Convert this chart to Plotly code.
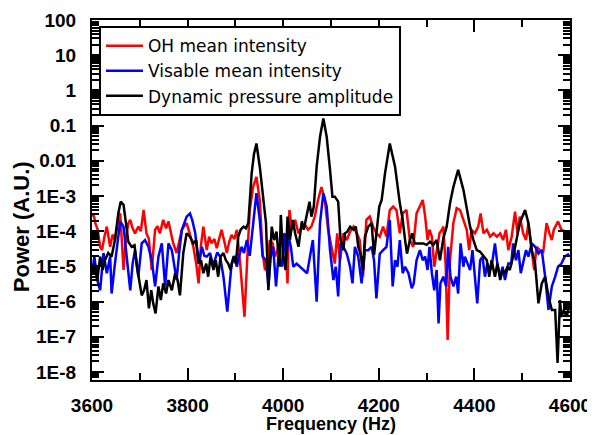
import plotly.graph_objects as go

# ---------------- data ----------------
freq_oh = [3600, 3603, 3607, 3612, 3617, 3621, 3626, 3631, 3638, 3643, 3648, 3655, 3659, 3666, 3671,
           3676, 3680, 3685, 3690, 3697, 3702, 3708, 3714, 3719, 3725, 3732, 3737, 3742, 3749, 3755,
           3760, 3765, 3770, 3777, 3783, 3788, 3793, 3798, 3805, 3812, 3818, 3823, 3828, 3833, 3840,
           3845, 3850, 3856, 3861, 3866, 3871, 3877, 3882, 3887, 3892, 3898, 3903, 3910, 3915, 3919,
           3926, 3930, 3937, 3944, 3951, 3957, 3962, 3967, 3972, 3978, 3983, 3990, 3997, 4004, 4009,
           4013, 4018, 4025, 4032, 4039, 4046, 4052, 4059, 4066, 4073, 4080, 4087, 4094, 4101, 4108,
           4113, 4119, 4126, 4133, 4140, 4147, 4154, 4160, 4167, 4174, 4181, 4188, 4195, 4202, 4209,
           4216, 4223, 4230, 4237, 4244, 4250, 4258, 4265, 4272, 4279, 4286, 4292, 4297, 4302, 4306,
           4311, 4316, 4321, 4327, 4332, 4335, 4340, 4344, 4349, 4356, 4363, 4370, 4377, 4384, 4389,
           4394, 4401, 4408, 4413, 4419, 4426, 4433, 4440, 4447, 4454, 4460, 4466, 4471, 4478, 4485,
           4490, 4495, 4502, 4508, 4513, 4520, 4525, 4530, 4537, 4544, 4551, 4557, 4562, 4566, 4575,
           4582, 4589, 4598]
oh_power = [2.6e-4, 3.2e-4, 1.7e-4, 1.1e-4, 3.6e-5, 2.9e-5, 7.0e-5, 1.35e-4, 3.6e-5, 8e-5, 5.6e-5, 2.1e-4, 3.2e-4, 7.9e-6, 6e-5,
            1.7e-4, 2.1e-4, 1.2e-4, 8.7e-5, 1.35e-4, 1.0e-4, 4.0e-4, 8.7e-5, 6e-5, 7.9e-6, 1.1e-4, 1.4e-4, 8.7e-5, 2.1e-4, 1.2e-4,
            1.9e-4, 9e-5, 4.5e-5, 2.4e-5, 6e-5, 1.1e-4, 1.4e-4, 1.7e-4, 8e-5, 3.6e-5, 1.2e-5, 3.3e-6, 4e-5, 1.35e-4, 2.9e-5,
            7e-5, 4.5e-5, 6e-5, 3.3e-5, 6e-5, 1.1e-4, 5e-5, 2.4e-5, 5e-5, 7.8e-5, 6e-5, 1.1e-4, 1.2e-5, 2e-6, 3.7e-7,
            3.6e-5, 4.0e-4, 1.8e-3, 3.5e-3, 7.7e-4, 2.3e-5, 7.9e-6, 9.8e-6, 5.6e-5, 4.5e-5, 1.9e-5, 3.6e-5, 5.6e-5, 8.7e-5, 3.3e-6,
            4.0e-4, 1.1e-4, 2.1e-4, 8.7e-5, 1.35e-4, 1.5e-4, 1.1e-4, 1.35e-4, 2.6e-4, 7.7e-4, 1.8e-3, 7.7e-4, 1.1e-4, 3.6e-5, 1.2e-5,
            8.7e-5, 1.5e-5, 8.7e-5, 5.6e-5, 9.7e-5, 1.35e-4, 8.7e-5, 5.6e-5, 5.1e-6, 2.1e-4, 2.6e-4, 1.35e-4, 8.7e-5, 7.0e-5, 1.35e-4,
            7.0e-5, 4.0e-4, 5.0e-4, 4.0e-4, 8.7e-5, 3.2e-4, 4.0e-4, 5.6e-5, 3.6e-5, 3.2e-4, 5.5e-4, 7.7e-4, 2.6e-4, 5.6e-5, 1.1e-4,
            7.0e-5, 9.8e-6, 2.9e-5, 8.7e-5, 1.1e-4, 1.35e-4, 9.8e-6, 8.1e-8, 1.5e-5, 1.7e-4, 4.5e-4, 4.0e-4, 2.1e-4, 1.1e-4, 2.9e-5,
            1.1e-4, 8.7e-5, 1.35e-4, 3.2e-4, 8.7e-5, 1.1e-4, 7.0e-5, 8.7e-5, 7.0e-5, 8.7e-5, 5.6e-5, 1.1e-4, 2.9e-5, 7.0e-5, 3.6e-4,
            8.7e-5, 2.6e-4, 8.7e-5, 5.6e-5, 1.7e-4, 2.9e-5, 7.9e-6, 3.6e-5, 2.9e-5, 2.6e-5, 1.7e-4, 8.7e-5, 5.6e-5, 1.1e-4, 1.9e-4,
            1.1e-4, 9.7e-5, 8.7e-5]

freq_vis = [3600, 3605, 3611, 3617, 3624, 3631, 3638, 3641, 3648, 3654, 3659, 3666, 3673, 3680, 3685,
            3690, 3697, 3704, 3711, 3718, 3725, 3732, 3739, 3746, 3753, 3760, 3767, 3772, 3777, 3783,
            3788, 3798, 3805, 3810, 3816, 3823, 3830, 3835, 3840, 3847, 3852, 3857, 3862, 3868, 3875,
            3883, 3888, 3892, 3898, 3903, 3908, 3913, 3918, 3924, 3930, 3936, 3944, 3951, 3957, 3964,
            3969, 3974, 3979, 3985, 3990, 3997, 4002, 4006, 4011, 4016, 4021, 4028, 4035, 4042, 4050,
            4056, 4062, 4070, 4077, 4084, 4091, 4098, 4105, 4110, 4115, 4120, 4126, 4133, 4140, 4145,
            4150, 4157, 4164, 4171, 4178, 4185, 4190, 4195, 4202, 4209, 4216, 4223, 4229, 4234, 4239,
            4244, 4250, 4255, 4262, 4269, 4273, 4279, 4286, 4292, 4297, 4302, 4306, 4311, 4316, 4321,
            4325, 4329, 4335, 4341, 4345, 4350, 4356, 4362, 4366, 4371, 4377, 4380, 4385, 4391, 4396,
            4401, 4406, 4412, 4417, 4422, 4427, 4433, 4438, 4443, 4448, 4454, 4459, 4464, 4471, 4477,
            4481, 4487, 4492, 4497, 4502, 4508, 4513, 4520, 4527, 4534, 4541, 4548, 4555, 4562, 4569,
            4575, 4582, 4589, 4598]
vis_power = [6.4e-6, 1.9e-5, 4.1e-6, 2.1e-6, 2.4e-5, 6.4e-6, 1.9e-5, 1.7e-6, 1.2e-5, 6e-5, 1.9e-4, 1.35e-4, 1.5e-5, 2.1e-6, 1.2e-5,
             2.9e-5, 5.1e-6, 4.5e-5, 5.6e-5, 3.6e-5, 1.5e-5, 2.7e-6, 1.9e-5, 4.5e-5, 2.7e-6, 4.5e-5, 2.9e-5, 1.2e-5, 4.1e-6, 3e-5,
             1.1e-4, 2.6e-4, 3.2e-4, 2e-4, 8.7e-5, 1.2e-5, 3.6e-5, 2e-5, 1.9e-5, 2.4e-5, 1.2e-5, 1.5e-5, 2.5e-5, 1.9e-5, 5.1e-6,
             5.2e-7, 4e-6, 1.2e-5, 2e-5, 9.8e-6, 2e-5, 3.6e-5, 2.4e-5, 5.6e-5, 2.0e-5, 1.35e-4, 1.2e-3, 2.1e-4, 1.9e-5, 1.5e-5,
             2.7e-6, 1.9e-5, 3.6e-5, 2.7e-6, 1.9e-5, 9.8e-6, 8.7e-5, 1.5e-5, 7.0e-5, 3.6e-5, 9.8e-6, 1.2e-5, 9.8e-6, 7.9e-6, 6.4e-6,
             1.9e-5, 5.6e-5, 1.0e-6, 1.7e-4, 1.2e-3, 5.0e-4, 2.9e-5, 4.1e-6, 9.8e-6, 1.4e-6, 4.5e-5, 3.6e-5, 2.3e-5, 9.8e-6, 3.3e-6,
             3.6e-5, 1.9e-5, 3.3e-6, 2.9e-5, 2.9e-5, 3.6e-5, 1.5e-5, 1.24e-6, 2.3e-5, 2.9e-5, 3.6e-5, 2.1e-4, 2.7e-6, 1.5e-5, 9.8e-6,
             5.6e-5, 6.4e-6, 9.8e-6, 6.4e-6, 2.4e-6, 3.3e-6, 1.5e-5, 2.9e-5, 1.5e-5, 1.9e-5, 7.9e-6, 3.6e-5, 6.4e-6, 2.1e-6, 7.9e-6,
             2.4e-7, 3.3e-6, 5.1e-6, 2.7e-6, 3.6e-5, 5.1e-6, 2.7e-6, 5.1e-6, 1.7e-6, 4.5e-5, 9.8e-6, 1.9e-5, 1.2e-5, 7.9e-6, 2.9e-5,
             5.1e-6, 8.9e-7, 1.5e-5, 1.9e-5, 5.1e-6, 1.2e-5, 7.9e-6, 1.5e-5, 4.5e-5, 1.2e-5, 5.1e-6, 9.8e-6, 4.1e-6, 1.2e-5, 1.2e-5,
             4.5e-5, 1.5e-5, 2.9e-5, 6.4e-6, 1.2e-5, 2.9e-5, 1.9e-5, 4.5e-5, 3.6e-5, 2.3e-5, 2.9e-5, 5.1e-6, 5.8e-7, 2.7e-6, 5.1e-6,
             9.8e-6, 1.2e-5, 1.9e-5, 2.3e-5]

freq_dyn = [3600, 3606, 3611, 3617, 3622, 3627, 3634, 3641, 3648, 3655, 3660, 3666, 3671, 3676, 3683,
            3689, 3694, 3699, 3704, 3709, 3714, 3719, 3724, 3728, 3733, 3739, 3744, 3749, 3755, 3760,
            3767, 3774, 3779, 3784, 3791, 3798, 3805, 3812, 3818, 3823, 3828, 3833, 3839, 3843, 3848,
            3854, 3859, 3864, 3869, 3875, 3880, 3885, 3890, 3896, 3901, 3906, 3911, 3917, 3922, 3927,
            3934, 3939, 3944, 3951, 3958, 3964, 3969, 3976, 3981, 3986, 3992, 3995, 4000, 4005, 4009,
            4014, 4020, 4025, 4032, 4039, 4043, 4049, 4055, 4059, 4064, 4070, 4077, 4084, 4091, 4098,
            4103, 4108, 4115, 4120, 4126, 4129, 4134, 4140, 4147, 4152, 4157, 4163, 4167, 4171, 4178,
            4185, 4190, 4195, 4201, 4206, 4213, 4223, 4234, 4244, 4250, 4255, 4259, 4265, 4270, 4275,
            4282, 4293, 4300, 4307, 4314, 4321, 4328, 4335, 4342, 4349, 4356, 4366, 4377, 4384, 4391,
            4398, 4405, 4412, 4419, 4426, 4431, 4436, 4443, 4448, 4454, 4459, 4464, 4469, 4474, 4481,
            4488, 4495, 4506, 4513, 4520, 4527, 4534, 4541, 4548, 4555, 4562, 4569, 4574, 4579, 4582,
            4587, 4593, 4598]
dyn_power = [6.4e-6, 1.2e-5, 4.1e-6, 1.9e-5, 7.9e-6, 1.5e-5, 2.4e-5, 1.9e-5, 5.6e-5, 3.2e-4, 6.9e-4, 5.6e-4, 1.7e-4, 5.0e-5, 3.6e-5,
             4.0e-5, 9.8e-6, 4.1e-6, 1.5e-6, 2.1e-6, 4.1e-6, 6.4e-7, 2.1e-6, 8.9e-7, 4.6e-7, 2.7e-6, 1.1e-6, 3.3e-6, 1.7e-6, 4.1e-6,
             2.1e-6, 6.4e-6, 4.1e-6, 1.5e-6, 2.4e-5, 8.7e-5, 7.0e-5, 4.5e-5, 5.6e-5, 1.2e-5, 1.5e-5, 6.4e-6, 1.2e-5, 5.1e-6, 1.9e-5,
             7.9e-6, 1.5e-5, 5.1e-6, 1.9e-5, 2.4e-5, 1.5e-5, 1.2e-5, 7.9e-6, 1.9e-5, 1.2e-5, 7.0e-5, 1.1e-4, 1.35e-4, 1.2e-4, 1.7e-4,
             4.4e-3, 1.6e-2, 3.1e-2, 6.8e-3, 7.7e-4, 1.7e-4, 2.1e-6, 1.35e-4, 5.6e-5, 9.7e-5, 9.8e-6, 2.9e-4, 1.9e-5, 7.9e-6, 2.6e-4,
             5.6e-5, 2.1e-4, 8.7e-5, 3.6e-5, 1.9e-4, 1.1e-4, 2.6e-4, 6.9e-4, 2.6e-4, 5.0e-4, 6.8e-3, 4.8e-2, 1.6e-1, 4.8e-2, 5.5e-3,
             9.6e-4, 9.6e-4, 6.9e-4, 5.6e-5, 2.9e-5, 8.7e-5, 9.7e-5, 1.35e-4, 1.1e-4, 1.35e-4, 3.6e-5, 1.9e-5, 7.9e-6, 7.0e-5, 1.35e-4,
             1.7e-4, 2.1e-5, 8.7e-5, 5.0e-4, 7.7e-4, 4.4e-3, 3.1e-2, 6.8e-3, 6.2e-4, 2.1e-4, 5.6e-5, 2.3e-5, 5.6e-5, 8.7e-5, 4.5e-5,
             4.5e-5, 4.5e-5, 4.1e-5, 5.0e-5, 4.1e-5, 5.6e-5, 1.5e-5, 6.3e-5, 1.35e-4, 6.2e-4, 1.8e-3, 5.5e-3, 1.5e-3, 4.0e-4, 1.35e-4,
             5.6e-5, 2.9e-5, 2.6e-5, 1.9e-5, 1.5e-5, 5.1e-6, 1.5e-5, 5.1e-6, 1.2e-5, 4.1e-6, 7.9e-6, 6.4e-6, 9.8e-6, 7.9e-6, 1.9e-5,
             5.6e-5, 1.7e-4, 4.0e-4, 1.7e-4, 2.9e-5, 1.2e-5, 8.9e-7, 3.3e-6, 5.1e-6, 1.4e-6, 5.8e-7, 5.8e-7, 1.8e-8, 1.1e-6, 3.7e-7,
             5.8e-7, 3.7e-7, 7.2e-7]

series_names = ["OH mean intensity", "Visable mean intensity", "Dynamic pressure amplitude"]
series_colors = ["#FF0000", "#0000FF", "#000000"]

x_ticks = [3600, 3800, 4000, 4200, 4400, 4600]
y_exponents = [2, 1, 0, -1, -2, -3, -4, -5, -6, -7, -8]
y_ticktext = ["100", "10", "1", "0.1", "0.01", "1E-3", "1E-4", "1E-5", "1E-6", "1E-7", "1E-8"]

# ---------------- figure ----------------
FONT = "Liberation Sans, Arial, sans-serif"
LEGEND_FONT = "DejaVu Sans, Verdana, sans-serif"
fig = go.Figure()
for fx, fy, name, col in zip([freq_oh, freq_vis, freq_dyn], [oh_power, vis_power, dyn_power],
                             series_names, series_colors):
    fig.add_trace(go.Scatter(x=fx, y=fy, mode="lines", name=name,
                             line=dict(color=col, width=2.5)))

y_tickvals = [10.0 ** e for e in y_exponents]
y_minor = [k * 10.0 ** e for e in range(-9, 2) for k in range(2, 10)]

axis_common = dict(showline=True, linecolor="black", linewidth=2, mirror="ticks",
                   ticks="inside", tickcolor="black", showgrid=False, zeroline=False,
                   automargin=False, ticklabeloverflow="allow",
                   tickfont=dict(family=FONT, size=19, color="black", weight="bold"))

fig.update_xaxes(range=[3600, 4600], tickvals=x_ticks, ticklen=12, tickwidth=2,
                 ticklabelstandoff=7,
                 minor=dict(dtick=100, tick0=3600, ticks="inside", ticklen=7, tickwidth=2, tickcolor="black"),
                 **axis_common)
fig.update_yaxes(type="log", range=[-8.227, 2], tickvals=y_tickvals, ticktext=y_ticktext,
                 ticklen=12, tickwidth=2, ticklabelstandoff=10,
                 minor=dict(tickvals=y_minor, ticks="inside", ticklen=7, tickwidth=1.5, tickcolor="black"),
                 **axis_common)

fig.add_annotation(text="Power (A.U.)", xref="paper", yref="paper", x=-0.146, y=0.425,
                   xanchor="center", yanchor="middle",
                   textangle=-90, showarrow=False,
                   font=dict(family=FONT, size=22, color="black", weight="bold"))
fig.add_annotation(text="Frequency (Hz)", xref="paper", yref="paper", x=0.5, y=-0.122,
                   xanchor="center", yanchor="middle", showarrow=False,
                   font=dict(family=FONT, size=18, color="black", weight="bold"))

# the page body keeps its default 8px margin; margins are offset so the plot box
# lands where the reference has it inside the 595x435 window
fig.update_layout(
    width=595, height=435,
    margin=dict(l=84, r=33, t=12, b=63),
    plot_bgcolor="white", paper_bgcolor="white",
    showlegend=True,
    legend=dict(x=0.0146, y=0.983, xanchor="left", yanchor="top",
                bgcolor="white", bordercolor="black", borderwidth=2,
                font=dict(family=LEGEND_FONT, size=17, color="black"),
                tracegroupgap=0, itemwidth=37),
)

fig.write_html("out.html")
